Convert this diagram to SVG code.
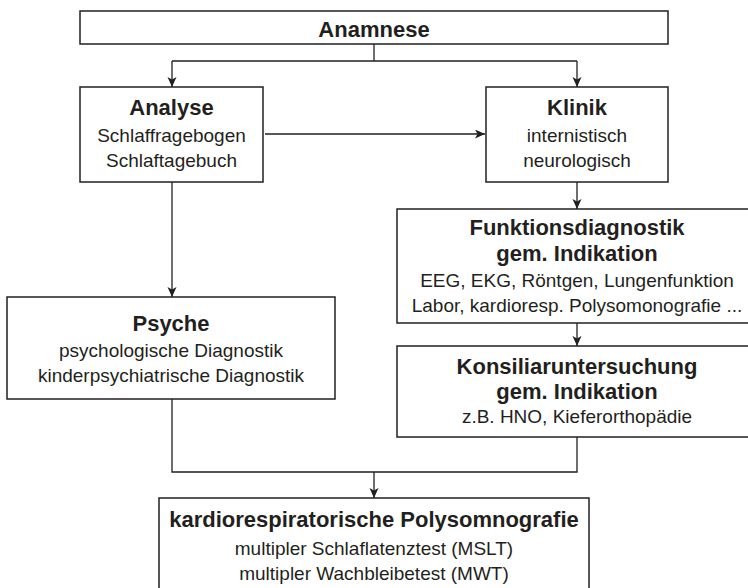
<svg xmlns="http://www.w3.org/2000/svg" width="748" height="588" viewBox="0 0 748 588">
<style>
.box{fill:#fff;stroke:#231f20;stroke-width:1.5}
.con{fill:none;stroke:#231f20;stroke-width:1.3}
text{font-family:"Liberation Sans",Arial,sans-serif;fill:#231f20;text-anchor:middle}
.b{font-weight:bold;font-size:22px}
.r{font-size:19px}
</style>
<defs>
<marker id="ah" markerUnits="userSpaceOnUse" markerWidth="12" markerHeight="10" refX="10" refY="4.5" orient="auto">
<path d="M0,0 L10,4.5 L0,9 L2.5,4.5 z" fill="#231f20"/>
</marker>
</defs>
<g id="connectors">
<path class="con" d="M374,44 V61 M172,61 H577"/>
<path class="con" d="M172,61 V87" marker-end="url(#ah)"/>
<path class="con" d="M577,61 V87" marker-end="url(#ah)"/>
<path class="con" d="M265,134 H485" marker-end="url(#ah)"/>
<path class="con" d="M172,182 V297" marker-end="url(#ah)"/>
<path class="con" d="M577,182 V209" marker-end="url(#ah)"/>
<path class="con" d="M577,323 V346" marker-end="url(#ah)"/>
<path class="con" d="M172,399 V472 H577 V437"/>
<path class="con" d="M374,472 V498" marker-end="url(#ah)"/>
</g>
<g id="anamnese">
<rect class="box" x="80" y="11" width="588" height="33"/>
<text class="b" x="374" y="37">Anamnese</text>
</g>
<g id="analyse">
<rect class="box" x="80" y="87" width="183" height="95"/>
<text class="b" x="171.5" y="115">Analyse</text>
<text class="r" x="171.5" y="142">Schlaffragebogen</text>
<text class="r" x="171.5" y="167">Schlaftagebuch</text>
</g>
<g id="klinik">
<rect class="box" x="486" y="87" width="182" height="95"/>
<text class="b" x="577" y="115">Klinik</text>
<text class="r" x="577" y="142">internistisch</text>
<text class="r" x="577" y="167">neurologisch</text>
</g>
<g id="funktionsdiagnostik">
<rect class="box" x="397" y="209" width="361" height="114"/>
<text class="b" x="577" y="235">Funktionsdiagnostik</text>
<text class="b" x="577" y="261">gem. Indikation</text>
<text class="r" x="577" y="287">EEG, EKG, Röntgen, Lungenfunktion</text>
<text class="r" x="577" y="312">Labor, kardioresp. Polysomonografie ...</text>
</g>
<g id="konsiliar">
<rect class="box" x="397" y="346" width="361" height="91"/>
<text class="b" x="577" y="374">Konsiliaruntersuchung</text>
<text class="b" x="577" y="399">gem. Indikation</text>
<text class="r" x="577" y="423">z.B. HNO, Kieferorthopädie</text>
</g>
<g id="psyche">
<rect class="box" x="7" y="297" width="328" height="102"/>
<text class="b" x="171" y="331">Psyche</text>
<text class="r" x="171" y="357">psychologische Diagnostik</text>
<text class="r" x="171" y="382">kinderpsychiatrische Diagnostik</text>
</g>
<g id="polysomnografie">
<rect class="box" x="159" y="498" width="430" height="100"/>
<text class="b" x="374" y="527">kardiorespiratorische Polysomnografie</text>
<text class="r" x="374" y="555">multipler Schlaflatenztest (MSLT)</text>
<text class="r" x="374" y="580">multipler Wachbleibetest (MWT)</text>
</g>
</svg>
